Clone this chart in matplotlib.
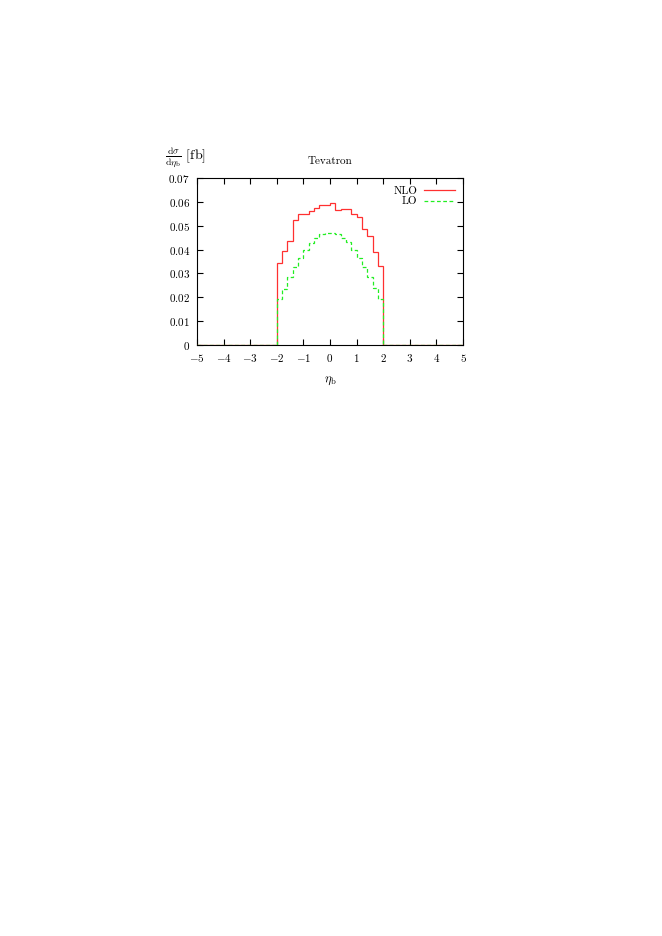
import matplotlib
matplotlib.use("Agg")
import matplotlib.pyplot as plt
from matplotlib.ticker import FuncFormatter, MultipleLocator

plt.rcParams["font.family"] = ["cmr10", "DejaVu Serif"]
plt.rcParams["mathtext.fontset"] = "cm"
plt.rcParams["axes.formatter.use_mathtext"] = True

# bin edges of the filled range (width 0.2 between -2 and 2)
edges = [-2.0, -1.8, -1.6, -1.4, -1.2, -1.0, -0.8, -0.6, -0.4, -0.2, 0.0,
         0.2, 0.4, 0.6, 0.8, 1.0, 1.2, 1.4, 1.6, 1.8, 2.0]

nlo = [0.0342, 0.0393, 0.0437, 0.0522, 0.0548, 0.0550, 0.0561, 0.0575, 0.0586, 0.0587,
       0.0596, 0.0565, 0.0570, 0.0572, 0.0550, 0.0538, 0.0488, 0.0456, 0.0391, 0.0331]
lo = [0.0191, 0.0236, 0.0286, 0.0328, 0.0365, 0.0400, 0.0428, 0.0450, 0.0465, 0.0470,
      0.0470, 0.0465, 0.0450, 0.0430, 0.0397, 0.0365, 0.0325, 0.0283, 0.0237, 0.0191]

x_range = (-5, 5)
y_range = (0, 0.07)

RED = "#ff3030"
GREEN = "#22ee22"

fig = plt.figure(figsize=(6.62, 9.36), dpi=100)
ax = fig.add_axes([197 / 662, 1 - 345 / 936, 266 / 662, 167 / 936])

# zero level outside the filled range
for lo_x, hi_x in [(x_range[0], edges[0]), (edges[-1], x_range[1])]:
    ax.plot([lo_x, hi_x], [0, 0], color=RED, lw=0.9, zorder=3)
    ax.plot([lo_x, hi_x], [0, 0], color=GREEN, lw=0.9, ls=(0, (3, 2)), zorder=4)

ax.stairs(nlo, edges, baseline=0, color=RED, lw=0.9, label="NLO", zorder=3)
ax.stairs(lo, edges, baseline=0, color=GREEN, lw=0.9, ls=(0, (3, 2)), label="LO", zorder=4)

ax.set_xlim(*x_range)
ax.set_ylim(*y_range)
ax.xaxis.set_major_locator(MultipleLocator(1))
ax.yaxis.set_major_locator(MultipleLocator(0.01))
ax.xaxis.set_major_formatter(FuncFormatter(lambda v, p: f"${v:.0f}$"))
ax.yaxis.set_major_formatter(FuncFormatter(lambda v, p: "$0$" if abs(v) < 1e-9 else f"${v:.2f}$"))
ax.tick_params(direction="in", length=4, width=0.8, top=True, right=True,
               labelsize=8, pad=5, color="black")
for sp in ax.spines.values():
    sp.set_linewidth(0.8)

ax.legend(loc="upper right", frameon=False, fontsize=8, markerfirst=False,
          handlelength=2.8, handletextpad=0.6, labelspacing=0.1,
          borderaxespad=0.3)

ax.set_title("Tevatron", fontsize=8, pad=10)
ax.set_xlabel(r"$\eta_{\mathrm{b}}$", fontsize=9, labelpad=8)
fig.text(165 / 662, 1 - 157 / 936,
         r"$\frac{\mathrm{d}\sigma}{\mathrm{d}\eta_{\mathrm{b}}}$ [fb]",
         fontsize=10, ha="left", va="center")

fig.savefig("out.png", dpi=100)
